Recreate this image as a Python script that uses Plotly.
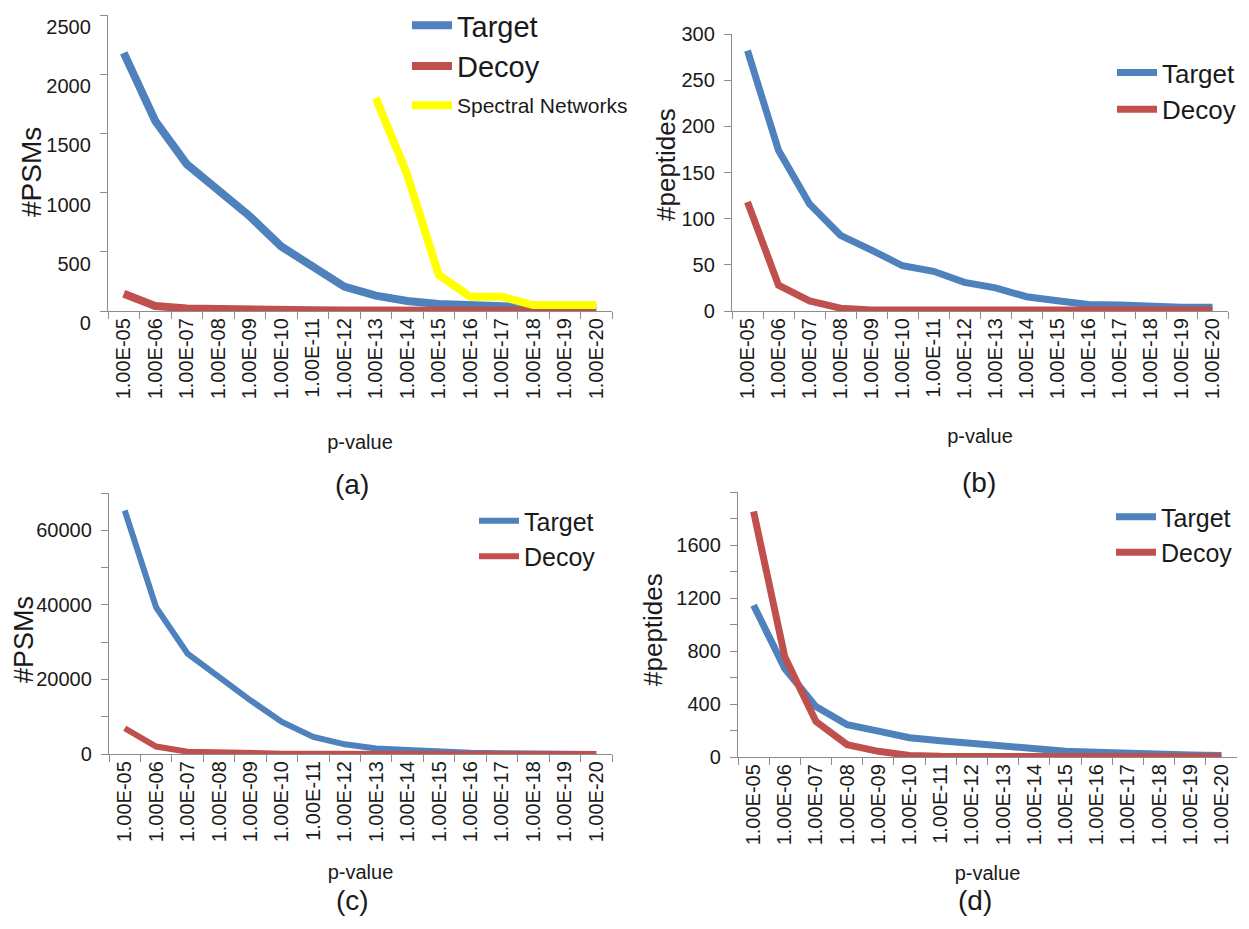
import plotly.graph_objects as go

# page body has an 8px margin, so lay out in screen pixels and convert
OFF = 8
FW, FH = 1249 - OFF, 929 - OFF

categories = ["1.00E-05", "1.00E-06", "1.00E-07", "1.00E-08", "1.00E-09", "1.00E-10",
              "1.00E-11", "1.00E-12", "1.00E-13", "1.00E-14", "1.00E-15", "1.00E-16",
              "1.00E-17", "1.00E-18", "1.00E-19", "1.00E-20"]

# panel (a): #PSMs
a_target = [2180, 1605, 1240, 1025, 800, 545, 376, 206, 130, 85, 60, 45, 37, 30, 28, 28]
a_decoy = [145, 42, 22, 14, 10, 8, 6, 5, 5, 4, 4, 3, 3, 2, 2, 2]
a_spectral = [None, None, None, None, None, None, None, None, 1800, 1150, 305, 121, 121, 50, 50, 50]
# panel (b): #peptides
b_target = [282, 174, 116, 82, 66, 49, 43, 31, 25, 15.5, 11, 7, 6.5, 5, 4, 4]
b_decoy = [118, 28, 11, 3, 1, 1, 1, 1, 1, 1, 1, 1, 1, 1, 1, 1]
# panel (c): #PSMs
c_target = [65300, 39300, 26900, 20600, 14400, 8600, 4600, 2600, 1500, 1100, 600, 350, 200, 100, 50, 30]
c_decoy = [6900, 2000, 620, 350, 200, 100, 60, 40, 30, 20, 15, 10, 8, 5, 5, 5]
# panel (d): #peptides
d_target = [1145, 668, 380, 243, 195, 145, 123, 100, 80, 55, 43, 35, 25, 20, 15, 12]
d_decoy = [1853, 756, 268, 93, 43, 12, 6, 4, 3, 2, 2, 2, 2, 1, 1, 1]

BLUE = "#4F81BD"
RED = "#C0504D"
YELLOW = "#FFFF00"
AXC = "#8c8c8c"
TXT = "#1a1a1a"
FONT = "Liberation Sans, Arial, sans-serif"


def px(x):
    return (x - OFF) / FW


def py(y):
    return 1 - (y - OFF) / FH


def xd(l, r):
    return [px(l), px(r)]


def yd(t, b):
    return [py(b), py(t)]


fig = go.Figure()

panels = [
    ("x", "y", "legend", a_target, a_decoy, 8),
    ("x2", "y2", "legend3", b_target, b_decoy, 7),
    ("x3", "y3", "legend4", c_target, c_decoy, 6),
    ("x4", "y4", "legend5", d_target, d_decoy, 7),
]
for xa, ya, lg, tgt, dec, lw in panels:
    fig.add_trace(go.Scatter(x=categories, y=tgt, mode="lines", name="Target",
                             line=dict(color=BLUE, width=lw), xaxis=xa, yaxis=ya, legend=lg))
    fig.add_trace(go.Scatter(x=categories, y=dec, mode="lines", name="Decoy",
                             line=dict(color=RED, width=lw), xaxis=xa, yaxis=ya, legend=lg))
fig.add_trace(go.Scatter(x=categories, y=a_spectral, mode="lines", name="Spectral Networks",
                         line=dict(color=YELLOW, width=8), xaxis="x", yaxis="y", legend="legend2"))

xbase = dict(type="category", tickson="boundaries", ticks="outside", ticklen=7,
             tickcolor=AXC, showline=True, linecolor=AXC, linewidth=1.3, tickangle=-90,
             tickfont=dict(family=FONT, size=20, color=TXT), range=[-0.5, 15.5],
             showgrid=False, zeroline=False, fixedrange=True, ticklabelstandoff=-2)
ybase = dict(ticks="outside", ticklen=7, tickcolor=AXC, showline=True, linecolor=AXC,
             linewidth=1.3, showgrid=False, zeroline=False, tickformat="d",
             ticklabeloverflow="allow",
             tickfont=dict(family=FONT, size=20, color=TXT), ticklabelstandoff=5)


def xax(anchor, dom, standoff):
    d = dict(xbase)
    d.update(anchor=anchor, domain=dom,
             title=dict(text="p-value", font=dict(family=FONT, size=20, color=TXT), standoff=standoff))
    return d


def yax(anchor, dom, rng, **kw):
    d = dict(ybase)
    d.update(anchor=anchor, domain=dom, range=rng)
    d.update(kw)
    return d


def leg(lx, ty, size):
    return dict(x=px(lx), y=py(ty), xanchor="left", yanchor="top",
                font=dict(family=FONT, size=size, color=TXT), bgcolor="rgba(0,0,0,0)",
                itemwidth=40)


fig.update_layout(
    width=FW, height=FH,
    margin=dict(l=0, r=0, t=0, b=0, autoexpand=False),
    paper_bgcolor="white", plot_bgcolor="white",
    xaxis=xax("y", xd(108, 612), 36),
    yaxis=yax("x", yd(15, 311), [0, 2500], tickmode="linear", tick0=0, dtick=500,
              ticklabelshift=12),
    xaxis2=xax("y2", xd(732, 1228), 30),
    yaxis2=yax("x2", yd(34, 311), [0, 300], tickmode="linear", tick0=0, dtick=50),
    xaxis3=xax("y3", xd(109, 612), 23),
    yaxis3=yax("x3", yd(493, 754), [0, 70000], tickmode="array",
               tickvals=[0, 20000, 40000, 60000],
               minor=dict(tickmode="linear", tick0=0, dtick=10000, ticks="outside",
                          ticklen=7, tickcolor=AXC, showgrid=False)),
    xaxis4=xax("y4", xd(738, 1237), 21),
    yaxis4=yax("x4", yd(492, 757), [0, 2000], tickmode="array",
               tickvals=[0, 400, 800, 1200, 1600],
               minor=dict(tickmode="linear", tick0=0, dtick=200, ticks="outside",
                          ticklen=7, tickcolor=AXC, showgrid=False)),
    legend=leg(407, 0, 29),
    legend2=leg(407, 85, 21),
    legend3=leg(1112, 49, 26),
    legend4=leg(474, 498, 25),
    legend5=leg(1111, 494, 25),
)

# y-axis titles
for txt, cx, cy, size in [("#PSMs", 32, 172, 28), ("#peptides", 666, 165, 26),
                          ("#PSMs", 24, 640, 27), ("#peptides", 653, 630, 26)]:
    fig.add_annotation(text=txt, x=px(cx), y=py(cy), xref="paper", yref="paper",
                       showarrow=False, xanchor="center", yanchor="middle", textangle=-90,
                       font=dict(family=FONT, size=size, color=TXT))

# panel labels
for txt, cx, cy in [("(a)", 352, 484), ("(b)", 979, 482), ("(c)", 352, 900), ("(d)", 975, 900)]:
    fig.add_annotation(text=txt, x=px(cx), y=py(cy), xref="paper", yref="paper",
                       showarrow=False, xanchor="center", yanchor="middle",
                       font=dict(family=FONT, size=28, color=TXT))

fig.write_html("out.html")
